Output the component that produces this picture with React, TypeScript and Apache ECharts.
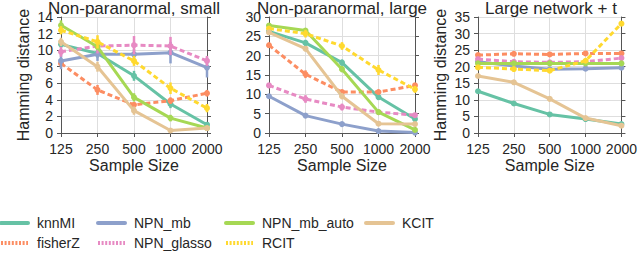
import React, { useEffect, useRef } from "react";
import * as echarts from "echarts";

const sampleSizes = ["125", "250", "500", "1000", "2000"];
const methodNames = ["knnMI", "fisherZ", "NPN_mb", "NPN_glasso", "NPN_mb_auto", "RCIT", "KCIT"];
const methodColors = ["#66c2a5", "#fc8d62", "#8da0cb", "#e78ac3", "#a6d854", "#ffd92f", "#e5c494"];
const methodDashed = [false, true, false, true, false, true, false];
const panelTitles = ["Non-paranormal, small", "Non-paranormal, large", "Large network + t"];
const panelMax = [14, 30, 35];
const panelInterval = [2, 5, 5];

// Panel 1: Non-paranormal, small
const small_knnMI = [10.7, 9.6, 6.9, 3.5, 1.0];
const small_fisherZ = [8.4, 5.2, 3.4, 3.9, 4.8];
const small_NPN_mb = [8.7, 9.5, 9.5, 9.7, 7.9];
const small_NPN_glasso = [9.8, 10.5, 10.6, 10.5, 8.7];
const small_NPN_mb_auto = [13.0, 10.4, 4.3, 1.8, 0.6];
const small_RCIT = [12.4, 11.0, 8.7, 5.4, 3.0];
const small_KCIT = [11.0, 8.0, 2.7, 0.3, 0.6];
const smallErr_knnMI = [0.4, 0.5, 0.6, 0.5, 0.3];
const smallErr_fisherZ = [0.4, 0.6, 0.3, 0.4, 0.4];
const smallErr_NPN_mb = [1.0, 0.8, 0.6, 1.3, 1.2];
const smallErr_NPN_glasso = [0.6, 0.9, 1.1, 1.1, 0.6];
const smallErr_NPN_mb_auto = [0.6, 0.4, 0.5, 0.4, 0.2];
const smallErr_RCIT = [0.5, 0.8, 0.6, 0.7, 0.5];
const smallErr_KCIT = [0.5, 0.6, 0.5, 0.2, 0.2];

// Panel 2: Non-paranormal, large
const large_knnMI = [26.3, 23.3, 18.2, 9.3, 3.6];
const large_fisherZ = [22.7, 15.2, 10.6, 10.6, 12.3];
const large_NPN_mb = [9.5, 4.5, 2.3, 0.5, 0.1];
const large_NPN_glasso = [12.3, 8.8, 6.7, 5.4, 4.6];
const large_NPN_mb_auto = [27.8, 26.5, 16.5, 5.4, 0.8];
const large_RCIT = [27.0, 25.7, 22.5, 16.3, 11.3];
const large_KCIT = [26.0, 21.8, 9.5, 2.4, 2.3];
const largeErr_knnMI = [0.6, 0.8, 0.8, 0.8, 0.5];
const largeErr_fisherZ = [0.7, 1.0, 0.6, 0.6, 0.7];
const largeErr_NPN_mb = [0.4, 0.4, 0.4, 0.3, 0.2];
const largeErr_NPN_glasso = [0.7, 1.0, 0.9, 0.5, 0.4];
const largeErr_NPN_mb_auto = [0.6, 0.6, 0.8, 0.6, 0.3];
const largeErr_RCIT = [0.6, 1.0, 1.0, 1.3, 0.9];
const largeErr_KCIT = [0.5, 0.7, 0.8, 0.4, 0.3];

// Panel 3: Large network + t
const tnet_knnMI = [12.6, 8.9, 5.6, 4.2, 2.7];
const tnet_fisherZ = [23.5, 23.9, 23.7, 24.0, 24.0];
const tnet_NPN_mb = [21.5, 20.2, 19.2, 19.4, 19.7];
const tnet_NPN_glasso = [22.3, 21.5, 21.3, 21.5, 22.6];
const tnet_NPN_mb_auto = [21.0, 21.0, 21.0, 21.0, 21.0];
const tnet_RCIT = [19.8, 19.3, 18.8, 21.8, 33.0];
const tnet_KCIT = [17.2, 15.3, 10.3, 4.5, 2.2];
const tnetErr_all = [0.3, 0.3, 0.3, 0.3, 0.3];

const panelValues = [
  [small_knnMI, small_fisherZ, small_NPN_mb, small_NPN_glasso, small_NPN_mb_auto, small_RCIT, small_KCIT],
  [large_knnMI, large_fisherZ, large_NPN_mb, large_NPN_glasso, large_NPN_mb_auto, large_RCIT, large_KCIT],
  [tnet_knnMI, tnet_fisherZ, tnet_NPN_mb, tnet_NPN_glasso, tnet_NPN_mb_auto, tnet_RCIT, tnet_KCIT],
];
const panelErrors = [
  [smallErr_knnMI, smallErr_fisherZ, smallErr_NPN_mb, smallErr_NPN_glasso, smallErr_NPN_mb_auto, smallErr_RCIT, smallErr_KCIT],
  [largeErr_knnMI, largeErr_fisherZ, largeErr_NPN_mb, largeErr_NPN_glasso, largeErr_NPN_mb_auto, largeErr_RCIT, largeErr_KCIT],
  [tnetErr_all, tnetErr_all, tnetErr_all, tnetErr_all, tnetErr_all, tnetErr_all, tnetErr_all],
];

const FONT = "'Liberation Sans', Arial, sans-serif";
const TEXT = "#262626";
const AXIS = "#555555";
const GRIDC = "#dedede";

const gridLefts = [61, 269, 478];
const GRID_W = 146;
const GRID_TOP = 17;
const GRID_H = 116;

// legend layout: [row, col]
const legendPos = [
  [0, 0], [1, 0], [0, 1], [1, 1], [0, 2], [1, 2], [0, 3],
];
const legendColX = [0, 97, 225, 365];
const legendRowY = [223, 243];

export default function App() {
  const ref = useRef<HTMLDivElement>(null);
  useEffect(() => {
    if (!ref.current) return;
    const chart = echarts.init(ref.current, null, { renderer: "svg" });
    const grids: any[] = [];
    const xAxes: any[] = [];
    const yAxes: any[] = [];
    const series: any[] = [];
    const graphics: any[] = [];

    for (let g = 0; g < 3; g++) {
      grids.push({ left: gridLefts[g], top: GRID_TOP, width: GRID_W, height: GRID_H, containLabel: false });
      xAxes.push({
        gridIndex: g,
        type: "category",
        data: sampleSizes,
        boundaryGap: false,
        axisLine: { show: true, lineStyle: { color: AXIS, width: 1 } },
        axisTick: { show: true, length: 4, interval: 0, lineStyle: { color: AXIS } },
        axisLabel: { fontSize: 14, color: TEXT, fontFamily: FONT, margin: 9, interval: 0, hideOverlap: false },
        splitLine: { show: true, interval: 0, lineStyle: { color: GRIDC, width: 1 } },
        name: "Sample Size",
        nameLocation: "middle",
        nameGap: 24,
        nameTextStyle: { fontSize: 16, color: TEXT, fontFamily: FONT, verticalAlign: "top" },
      });
      xAxes.push({
        gridIndex: g,
        type: "category",
        data: sampleSizes,
        boundaryGap: false,
        position: "top",
        axisLine: { show: true, lineStyle: { color: AXIS, width: 1 } },
        axisTick: { show: false },
        axisLabel: { show: false },
        splitLine: { show: false },
      });
      const yBase: any = {
        gridIndex: g,
        type: "value",
        min: 0,
        max: panelMax[g],
        interval: panelInterval[g],
        axisLine: { show: true, lineStyle: { color: AXIS, width: 1 } },
        axisTick: { show: true, length: 4, lineStyle: { color: AXIS } },
      };
      yAxes.push({
        ...yBase,
        position: "left",
        axisLabel: { fontSize: 14, color: TEXT, fontFamily: FONT, margin: 8 },
        splitLine: { show: true, lineStyle: { color: GRIDC, width: 1 } },
        name: g === 1 ? "" : "Hamming distance",
        nameLocation: "middle",
        nameGap: 30,
        nameTextStyle: { fontSize: 16, color: TEXT, fontFamily: FONT },
      });
      yAxes.push({
        ...yBase,
        position: "right",
        axisLabel: { show: false },
        splitLine: { show: false },
      });

      for (let m = 0; m < methodNames.length; m++) {
        const vals = panelValues[g][m];
        const errs = panelErrors[g][m];
        series.push({
          type: "custom",
          name: methodNames[m] + "_err" + g,
          xAxisIndex: g * 2,
          yAxisIndex: g * 2,
          clip: false,
          z: 2 + m,
          data: vals.map((v, i) => [i, v - errs[i], v + errs[i]]),
          encode: { x: 0, y: [1, 2] },
          renderItem: (params: any, api: any) => {
            const p1 = api.coord([api.value(0), api.value(1)]);
            const p2 = api.coord([api.value(0), api.value(2)]);
            return {
              type: "line",
              shape: { x1: p1[0], y1: p1[1], x2: p2[0], y2: p2[1] },
              style: { stroke: methodColors[m], lineWidth: 2.5 },
            };
          },
        });
        series.push({
          type: "line",
          name: methodNames[m],
          xAxisIndex: g * 2,
          yAxisIndex: g * 2,
          data: vals,
          z: 2 + m,
          symbol: "circle",
          symbolSize: 6,
          showSymbol: true,
          itemStyle: { color: methodColors[m] },
          lineStyle: {
            color: methodColors[m],
            width: 3,
            type: methodDashed[m] ? [5, 3] : "solid",
          },
        });
      }

      graphics.push({
        type: "text",
        x: gridLefts[g] + GRID_W / 2,
        y: 0,
        style: {
          text: panelTitles[g],
          fill: TEXT,
          font: `17px ${FONT}`,
          textAlign: "center",
          textVerticalAlign: "top",
        },
      });
    }

    for (let m = 0; m < methodNames.length; m++) {
      const [row, col] = legendPos[m];
      const x0 = legendColX[col];
      const y0 = legendRowY[row];
      graphics.push({
        type: "line",
        shape: { x1: x0 + 1, y1: y0, x2: x0 + 28, y2: y0 },
        style: methodDashed[m]
          ? { stroke: methodColors[m], lineWidth: 4, lineDash: [2, 1.6] }
          : { stroke: methodColors[m], lineWidth: 4, lineCap: "round" },
      });
      graphics.push({
        type: "text",
        x: x0 + 37,
        y: y0,
        style: {
          text: methodNames[m],
          fill: TEXT,
          font: `14px ${FONT}`,
          textAlign: "left",
          textVerticalAlign: "middle",
        },
      });
    }

    chart.setOption({
      animation: false,
      backgroundColor: "#ffffff",
      grid: grids,
      xAxis: xAxes,
      yAxis: yAxes,
      series,
      graphic: graphics,
    });
    return () => chart.dispose();
  }, []);
  return <div ref={ref} style={{ position: "fixed", left: 0, top: 0, width: 640, height: 254 }} />;
}
